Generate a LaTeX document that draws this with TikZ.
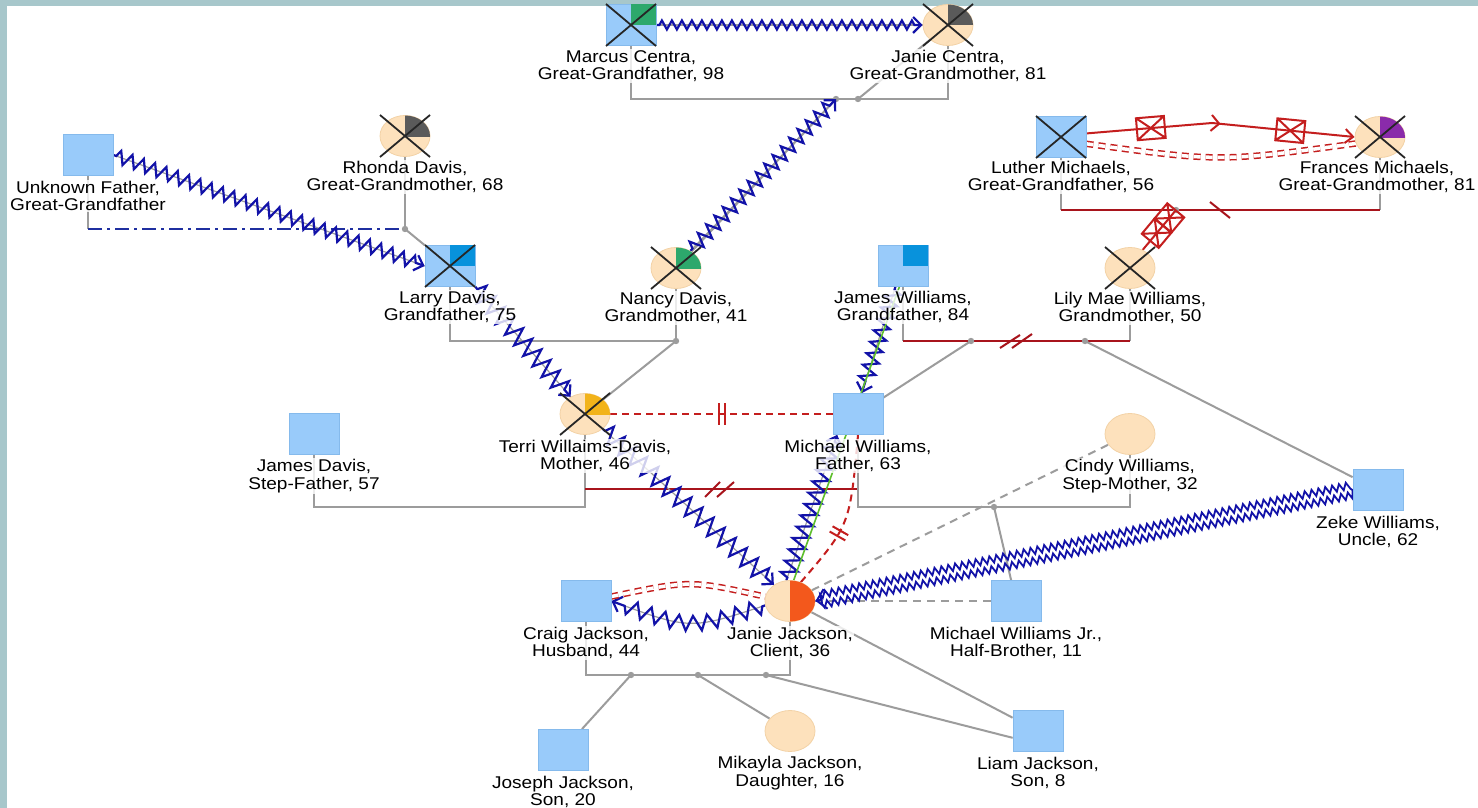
\documentclass[tikz,border=0pt]{standalone}
\usepackage{fontspec}
\setmainfont{Liberation Sans}[FakeStretch=1.12]
\usetikzlibrary{shapes.geometric,decorations.pathmorphing,decorations.markings,arrows.meta,calc}
\definecolor{sqfill}{HTML}{99CBFA}
\definecolor{sqdraw}{HTML}{85BAEC}
\definecolor{cifill}{HTML}{FDE1BC}
\definecolor{cidraw}{HTML}{F3D2A6}
\definecolor{zzc}{HTML}{1212A8}
\definecolor{glc}{HTML}{9C9C9C}
\definecolor{redm}{HTML}{A8141C}
\definecolor{redr}{HTML}{C41E1E}
\definecolor{framec}{HTML}{A7C7CB}
\definecolor{dq}{HTML}{5A5A5A}
\definecolor{gq}{HTML}{2DA86C}
\definecolor{bq}{HTML}{0892DC}
\definecolor{pq}{HTML}{8A2BAA}
\definecolor{yq}{HTML}{F2B31A}
\definecolor{oq}{HTML}{F3581C}
\definecolor{grn}{HTML}{5DBE2C}
\definecolor{ddc}{HTML}{1F2FA0}
\pgfdeclarelayer{bg}
\pgfdeclarelayer{mid}
\pgfsetlayers{bg,mid,main}
\newcommand{\sqq}[2]{\fill[#2] (#1.center) rectangle (#1.north east);}
\newcommand{\ciq}[2]{\begin{scope}\clip (#1.center) rectangle ($(#1.center)+(30,-30)$);\fill[#2] (#1.center) ellipse[x radius=25pt,y radius=20.5pt];\end{scope}}
\newcommand{\xx}[1]{\draw[xline] ($(#1.center)+(-25,-21)$) -- ($(#1.center)+(25,21)$) ($(#1.center)+(25,-21)$) -- ($(#1.center)+(-25,21)$);}
\newcommand{\boxx}[2]{\draw[redr, line width=2pt, solid] (-#1,-#2) rectangle (#1,#2) (-#1,-#2) -- (#1,#2) (-#1,#2) -- (#1,-#2);}
\begin{document}
\begin{tikzpicture}[x=1pt, y=-1pt,
  sq/.style={rectangle, minimum width=50pt, minimum height=41pt, inner sep=0pt, fill=sqfill, draw=sqdraw, line width=0.8pt},
  ci/.style={ellipse, minimum width=50pt, minimum height=41pt, inner sep=0pt, fill=cifill, draw=cidraw, line width=0.8pt},
  lbl/.style={fill=white, fill opacity=0.8, text opacity=1, align=center, inner sep=1pt, font=\fontsize{17}{17.5}\selectfont},
  xline/.style={line width=1.8pt, draw=black!85},
  gline/.style={draw=glc, line width=2pt},
  gdash/.style={draw=glc, line width=2pt, dash pattern=on 8pt off 6pt},
  dotm/.style={fill=glc},
  rline/.style={draw=redm, line width=2pt},
  rdash/.style={draw=redr, line width=2pt, dash pattern=on 7pt off 5pt},
  zig/.style n args={2}{draw=glc, line width=1.2pt, postaction={draw=zzc, line width=2.2pt, line join=miter, decorate, decoration={zigzag, segment length=#1, amplitude=#2, pre length=3pt, post length=7pt}, -{Straight Barb[length=8pt,width=16pt]}}}
]
\useasboundingbox (0,0) rectangle (1478,808);
\begin{pgfonlayer}{bg}
\fill[white] (0,0) rectangle (1478,808);
\fill[framec] (0,0) rectangle (1478,6);
\fill[framec] (0,0) rectangle (7,808);
\end{pgfonlayer}

% ---------- people ----------
\node[sq] (mc) at (631,25) {};
\node[ci] (jc) at (948,25) {};
\node[sq] (uf) at (88,155) {};
\node[ci] (rd) at (405,136) {};
\node[sq] (ld) at (450,266) {};
\node[ci] (nd) at (676,268) {};
\node[sq] (jw) at (903,266) {};
\node[ci] (lm) at (1130,268) {};
\node[sq] (lu) at (1061,137) {};
\node[ci] (fm) at (1380,137) {};
\node[ci] (tw) at (585,414) {};
\node[sq] (mw) at (858,414) {};
\node[sq] (jd) at (314,434) {};
\node[ci] (cw) at (1130,434) {};
\node[sq] (zw) at (1378,490) {};
\node[ci] (jj) at (790,601) {};
\node[sq] (cj) at (586,601) {};
\node[sq] (mj) at (1016,601) {};
\node[sq] (jo) at (563,750) {};
\node[ci] (mk) at (790,731) {};
\node[sq] (li) at (1038,731) {};

% quadrants and crosses
\sqq{mc}{gq} \xx{mc}
\ciq{jc}{dq} \xx{jc}
\ciq{rd}{dq} \xx{rd}
\sqq{ld}{bq} \xx{ld}
\ciq{nd}{gq} \xx{nd}
\fill[bq] (jw.center) rectangle (jw.north east);
\xx{lm}
\xx{lu}
\ciq{fm}{pq} \xx{fm}
\ciq{tw}{yq} \xx{tw}
\begin{scope}\clip ($(jj.center)+(0,-30)$) rectangle ($(jj.center)+(30,30)$);\fill[oq] (jj.center) ellipse[x radius=25pt,y radius=20.5pt];\end{scope}

% ---------- labels ----------
\node[lbl] (mc-l) at ($(mc)+(0,41)$) {Marcus Centra,\\Great-Grandfather, 98};
\node[lbl] (jc-l) at ($(jc)+(0,41)$) {Janie Centra,\\Great-Grandmother, 81};
\node[lbl] (uf-l) at ($(uf)+(0,41)$) {Unknown Father,\\Great-Grandfather};
\node[lbl] (rd-l) at ($(rd)+(0,41)$) {Rhonda Davis,\\Great-Grandmother, 68};
\node[lbl] (ld-l) at ($(ld)+(0,41)$) {Larry Davis,\\Grandfather, 75};
\node[lbl] (nd-l) at ($(nd)+(0,40)$) {Nancy Davis,\\Grandmother, 41};
\node[lbl] (jw-l) at ($(jw)+(0,41)$) {James Williams,\\Grandfather, 84};
\node[lbl] (lm-l) at ($(lm)+(0,40)$) {Lily Mae Williams,\\Grandmother, 50};
\node[lbl] (lu-l) at ($(lu)+(0,40)$) {Luther Michaels,\\Great-Grandfather, 56};
\node[lbl] (fm-l) at ($(fm)+(-3,40)$) {Frances Michaels,\\Great-Grandmother, 81};
\node[lbl] (tw-l) at ($(tw)+(0,42)$) {Terri Willaims-Davis,\\Mother, 46};
\node[lbl] (mw-l) at ($(mw)+(0,42)$) {Michael Williams,\\Father, 63};
\node[lbl] (jd-l) at ($(jd)+(0,42)$) {James Davis,\\Step-Father, 57};
\node[lbl] (cw-l) at ($(cw)+(0,42)$) {Cindy Williams,\\Step-Mother, 32};
\node[lbl] (zw-l) at ($(zw)+(0,42)$) {Zeke Williams,\\Uncle, 62};
\node[lbl] (jj-l) at ($(jj)+(0,42)$) {Janie Jackson,\\Client, 36};
\node[lbl] (cj-l) at ($(cj)+(0,42)$) {Craig Jackson,\\Husband, 44};
\node[lbl] (mj-l) at ($(mj)+(0,42)$) {Michael Williams Jr.,\\Half-Brother, 11};
\node[lbl] (jo-l) at ($(jo)+(0,42)$) {Joseph Jackson,\\Son, 20};
\node[lbl] (mk-l) at ($(mk)+(0,42)$) {Mikayla Jackson,\\Daughter, 16};
\node[lbl] (li-l) at ($(li)+(0,42)$) {Liam Jackson,\\Son, 8};

% ---------- junction coordinates ----------
\coordinate (cD1) at (836,99);
\coordinate (cD2) at (858,99);
\coordinate (uD) at (405,229);
\coordinate (lD) at (676,341);
\coordinate (jwD1) at (971,341);
\coordinate (jwD2) at (1085,341);
\coordinate (jwX) at (1016,341);
\coordinate (luD) at (1176,210);
\coordinate (luX) at (1220,210);
\coordinate (luM) at (1212,123);
\coordinate (tjL) at (450,507);
\coordinate (tmL) at (720,489);
\coordinate (mcL) at (994,507);
\coordinate (cjD1) at (631,675);
\coordinate (cjD2) at (698,675);
\coordinate (cjD3) at (766,675);

% ---------- family lines ----------
\begin{pgfonlayer}{bg}
\draw[gline] (mc.south) |- (cD1) -| (jc.south);
\draw[gline] (cD1) -- (nd);
\draw[gline] (cD2) -- (jc);
\draw[gline] (uf.south) -- (uf.south |- uD);
\draw[gline] (rd.south) -- (uD);
\draw[draw=ddc, line width=2pt, dash pattern=on 14pt off 5pt on 3pt off 5pt] (uf.south |- uD) -- (uD);
\draw[gline] (uD) -- (ld);
\draw[gline] (ld.south) |- (lD) -- (nd.south);
\draw[gline] (lD) -- (tw);
\draw[gline] (jw.south) -- (jw.south |- jwD1);
\draw[gline] (lm.south) -- (lm.south |- jwD1);
\draw[rline] (jw.south |- jwD1) -- (lm.south |- jwD1);
\draw[redm, line width=2pt] ($(jwX)+(-16,7)$) -- ($(jwX)+(4,-6)$) ($(jwX)+(-4,7)$) -- ($(jwX)+(16,-7)$);
\draw[gline] (jwD1) -- (mw);
\draw[gline] (jwD2) -- (zw);
\draw[gline] (lu.south) -- (lu.south |- luD);
\draw[gline] (fm.south) -- (fm.south |- luD);
\draw[rline] (lu.south |- luD) -- (fm.south |- luD);
\draw[redm, line width=2pt] ($(luX)+(-10,-8)$) -- ($(luX)+(10,8)$);
\draw[gline] (jd.south) |- (tjL) -| (tw.south);
\draw[rline] (tw.south |- tmL) -- (mw.south |- tmL);
\draw[redm, line width=2pt] ($(tmL)+(-15,8)$) -- ($(tmL)+(0,-7)$) ($(tmL)+(-3,8)$) -- ($(tmL)+(14,-7)$);
\draw[gline] (mw.south) |- (mcL) -| (cw.south);
\draw[gline] (mcL) -- (mj);
\draw[gline] (cj.south) |- (cjD2) -| (jj.south);
\draw[gline] (cjD1) -- (jo);
\draw[gline] (cjD2) -- (mk);
\draw[gline] (cjD3) -- (li.195);
\draw[gline] (jj) -- (li);
\draw[gdash] (jj) -- (cw);
\draw[gdash] (jj) -- (mj);
\foreach \d in {cD1,cD2,uD,lD,jwD1,jwD2,luD,mcL,cjD1,cjD2,cjD3} \fill[dotm] (\d) circle (3.2pt);
\end{pgfonlayer}

% ---------- emotional relationships ----------
\begin{pgfonlayer}{mid}
\draw[zig={10pt}{4.5pt}] (mc.east) -- (jc.west);
\draw[zig={12pt}{6.5pt}] (uf.east) -- (ld.west);
\draw[zig={12pt}{7pt}] (nd.50) -- (cD1);
\draw[zig={14pt}{9pt}] (ld.south east) -- (tw.130);
\draw[zig={15pt}{9pt}] (tw.-40) -- (jj.135);
\draw[zig={12pt}{7.5pt}] (jw.250) -- (mw.80);
\draw[zig={12pt}{8pt}] (jj.100) -- (mw.225);
\draw[zig={15pt}{7.5pt}] (jj.190) .. controls (690,630) .. (cj.east);
\draw[zzc, line width=1.8pt, decorate, decoration={zigzag, segment length=7pt, amplitude=3.5pt, raise=5pt, post length=4pt}] (zw.west) -- (jj.east);
\draw[zzc, line width=1.8pt, decorate, decoration={zigzag, segment length=7pt, amplitude=3.5pt, raise=-5pt, post length=4pt}] (zw.west) -- (jj.east);
\path[postaction={decorate, decoration={markings, mark=at position 1 with {\arrow[zzc, line width=2pt]{Straight Barb[length=9pt,width=20pt]}}}}] (zw.west) -- (jj.east);
% green
\draw[grn, line width=1.6pt] (jj.80) -- (jw.260);
% red
\draw[rdash, postaction={decorate, decoration={markings, mark=at position 0.5 with {\draw[redr, line width=2pt, solid] (-3,-11) -- (-3,11) (3,-11) -- (3,11);}}}] (tw) -- (mw);
\draw[rdash, postaction={decorate, decoration={markings, mark=at position 0.62 with {\draw[redr, line width=2pt, solid] (-3,-9) -- (-3,9) (3,-9) -- (3,9);}}}] (mw.south) .. controls (850,525) .. (jj.60);
\draw[rdash, line width=1.5pt, double=white, double distance=3.5pt] (cj.10) .. controls (690,580) .. (jj.170);
\draw[redr, line width=2pt, -{Straight Barb[length=8pt,width=14pt]}, postaction={decorate, decoration={markings, mark=at position 0.24 with {\boxx{14}{11}}, mark=at position 0.5 with {\arrow{Straight Barb[length=8pt,width=16pt]}}, mark=at position 0.76 with {\boxx{14}{11}}}}] (lu.8) -- (luM) -- (fm.west);
\draw[rdash, line width=1.5pt, double=white, double distance=3.5pt] (lu.-15) .. controls (1220,162) .. (fm.195);
\draw[redr, line width=2pt, postaction={decorate, decoration={markings, mark=at position 0.42 with {\boxx{10}{11}}, mark=at position 0.8 with {\boxx{10}{11}}}}] (lm.55) -- (luD);
\end{pgfonlayer}
\end{tikzpicture}
\end{document}
